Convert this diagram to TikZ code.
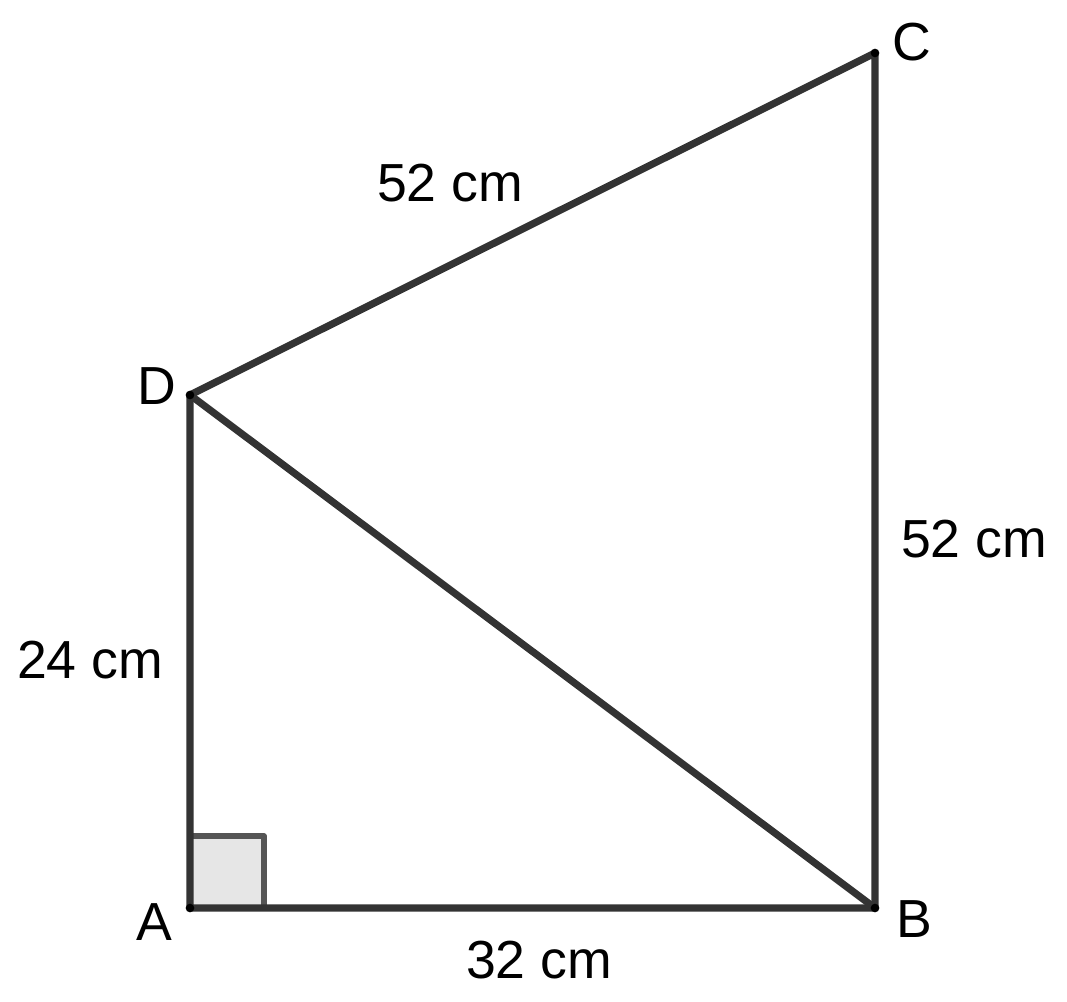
\documentclass[tikz,border=0pt]{standalone}
\usepackage{fontspec}
\setmainfont{Liberation Sans}
\definecolor{edge}{HTML}{333333}
\definecolor{sqfill}{HTML}{E6E6E6}
\definecolor{sqdraw}{HTML}{555555}
\begin{document}
\begin{tikzpicture}[x=0.75pt,y=-0.75pt,
  lbl/.style={inner sep=0pt,font=\fontsize{40.2}{44}\selectfont,text=black},
  edgeline/.style={draw=edge,line width=5.4pt,line cap=round,line join=round},
  vdot/.style={circle,fill=black,inner sep=0pt,minimum size=6.5pt}]
\useasboundingbox (0,0) rectangle (1067,1002);
\coordinate (A) at (190,908);
\coordinate (B) at (875,908);
\coordinate (C) at (875,53);
\coordinate (D) at (190,395);
% right angle mark
\filldraw[fill=sqfill,draw=sqdraw,line width=3.8pt,line join=round] (190,908) rectangle (264,836);
\draw[edgeline] (A) -- (B) -- (C) -- (D) -- cycle;
\draw[edgeline] (D) -- (B);
\foreach \p in {A,B,C,D} \node[vdot] at (\p) {};
% vertex labels
\node[lbl] (lA) at (154,922) {A};
\node[lbl] (lB) at (914,919) {B};
\node[lbl] (lC) at (912,42) {C};
\node[lbl] (lD) at (157,386) {D};
% measure labels
\node[lbl] (mDC) at (450,183) {52 cm};
\node[lbl] (mBC) at (974,539) {52 cm};
\node[lbl] (mAD) at (90,660) {24 cm};
\node[lbl] (mAB) at (539,960) {32 cm};
\end{tikzpicture}
\end{document}
